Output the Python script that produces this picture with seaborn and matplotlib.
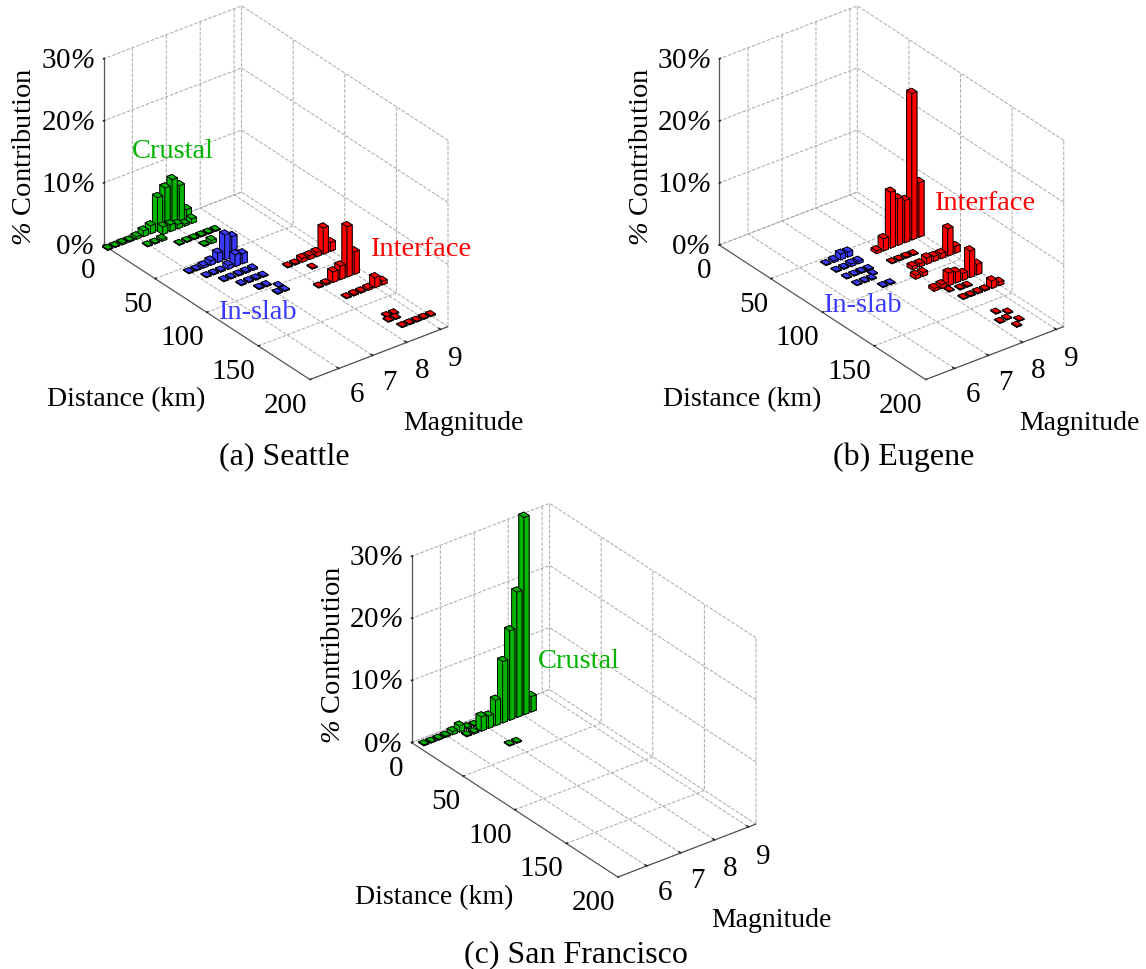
import matplotlib
matplotlib.use('Agg')
import matplotlib.pyplot as plt
import pandas as pd
import seaborn as sns
from mpl_toolkits.mplot3d import proj3d

sns.set_theme(style='white')
plt.rcParams['font.family'] = ['Liberation Serif', 'DejaVu Serif']
plt.rcParams['mathtext.fontset'] = 'custom'
# the % sign in the reference is italic, math mode is only used for that sign
plt.rcParams['mathtext.rm'] = 'Liberation Serif:italic'
plt.rcParams['mathtext.it'] = 'Liberation Serif:italic'
plt.rcParams['grid.linestyle'] = '--'

# Seattle
sea_crustal_dist = [4] * 12 + [9] * 5 + [15] * 3 + [25] * 6 + [35] * 2
sea_crustal_mag = [5.15, 5.36, 5.57, 5.78, 5.99, 6.20, 6.41, 6.62, 6.84, 7.05, 7.26, 7.47,
                   6.62, 6.84, 7.05, 7.26, 7.47,
                   5.99, 6.20, 6.41,
                   6.62, 6.84, 7.05, 7.26, 7.47, 7.68,
                   7.05, 7.26]
sea_crustal_pct = [0.12, 0.12, 0.2, 0.15, 0.4, 0.9, 1.3, 5.4, 6.5, 7.4, 6.0, 1.7,
                   1.2, 1.1, 0.7, 0.3, 0.7,
                   0.12, 0.12, 0.3,
                   0.12, 0.12, 0.12, 0.15, 0.15, 0.15,
                   0.12, 0.5]

sea_slab_dist = [55] * 7 + [65] * 6 + [75] * 5 + [85] * 4 + [95] * 2 + [100] + [106] * 2
sea_slab_mag = [5.99, 6.20, 6.41, 6.62, 6.84, 7.05, 7.26,
                6.20, 6.41, 6.62, 6.84, 7.05, 7.26,
                6.41, 6.62, 6.84, 7.05, 7.26,
                6.62, 6.84, 7.05, 7.26,
                6.84, 7.05,
                7.26,
                7.05, 7.26]
sea_slab_pct = [0.12, 0.15, 0.35, 0.7, 1.5, 4.0, 3.3,
                0.12, 0.12, 0.15, 0.6, 1.9, 1.6,
                0.12, 0.12, 0.15, 0.2, 0.25,
                0.15, 0.15, 0.15, 0.15,
                0.15, 0.15,
                0.12,
                0.12, 0.12]

sea_inter_dist = [85] * 7 + [95] + [115] * 6 + [135] * 6 + [167] * 2 + [172] * 2 + [182] * 5
sea_inter_mag = [7.99, 8.20, 8.41, 8.62, 8.83, 9.04, 9.25,
                 8.41,
                 7.99, 8.20, 8.41, 8.62, 8.83, 9.04,
                 8.20, 8.41, 8.62, 8.83, 9.04, 9.25,
                 8.41, 8.62,
                 8.31, 8.52,
                 8.41, 8.62, 8.83, 9.04, 9.25]
sea_inter_pct = [0.12, 0.15, 0.6, 0.6, 0.7, 4.2, 1.4,
                 0.12,
                 0.12, 0.2, 1.7, 2.2, 8.1, 3.6,
                 0.12, 0.2, 0.2, 0.3, 1.6, 0.6,
                 0.12, 0.12,
                 0.12, 0.12,
                 0.12, 0.12, 0.12, 0.15, 0.15]

# Eugene
eug_slab_dist = [55] * 4 + [65] * 4 + [75] * 4 + [81] + [85] * 3 + [96] * 2
eug_slab_mag = [6.62, 6.84, 7.05, 7.26,
                6.62, 6.84, 7.05, 7.26,
                6.62, 6.84, 7.05, 7.26,
                7.20,
                6.62, 6.84, 7.05,
                7.05, 7.26]
eug_slab_pct = [0.12, 0.3, 0.9, 0.8,
                0.12, 0.15, 0.4, 0.4,
                0.12, 0.12, 0.15, 0.15,
                0.12,
                0.12, 0.12, 0.12,
                0.12, 0.12]

eug_inter_dist = ([62] * 7 + [77] * 4 + [90] * 7 + [100] * 2 + [118] * 7 + [124] + [126] * 2
                  + [136] * 6 + [161.5, 165.7, 170.9, 171.6, 176.6, 181.3])
eug_inter_mag = [7.89, 8.10, 8.31, 8.52, 8.73, 8.94, 9.15,
                 7.89, 8.10, 8.31, 8.52,
                 8.10, 8.31, 8.52, 8.73, 8.94, 9.15, 9.36,
                 7.89, 8.10,
                 7.89, 8.10, 8.31, 8.52, 8.73, 8.94, 9.15,
                 8.15,
                 8.41, 8.62,
                 8.20, 8.41, 8.62, 8.83, 9.04, 9.25,
                 8.39, 8.61, 8.42, 8.20, 8.61, 8.40]
eug_inter_pct = [0.44, 1.96, 9.0, 7.5, 6.8, 23.6, 8.8,
                 0.12, 0.12, 0.15, 0.12,
                 0.5, 0.5, 1.0, 0.8, 0.8, 4.4, 1.1,
                 0.6, 0.6,
                 0.45, 0.6, 2.05, 1.75, 1.1, 4.3, 1.7,
                 0.12,
                 0.12, 0.12,
                 0.12, 0.12, 0.2, 0.2, 1.2, 0.55,
                 0.12, 0.12, 0.12, 0.12, 0.12, 0.12]

# San Francisco
sfo_crustal_dist = [5] * 8 + [12] * 10 + [36] * 2
sfo_crustal_mag = [5.36, 5.57, 5.78, 5.99, 6.20, 6.41, 6.62, 6.84,
                   6.41, 6.62, 6.84, 7.05, 7.26, 7.47, 7.68, 7.89, 8.10, 8.31,
                   6.94, 7.15]
sfo_crustal_pct = [0.12, 0.12, 0.15, 0.2, 0.5, 0.95, 0.25, 0.15,
                   0.12, 0.2, 2.3, 2.0, 4.1, 9.9, 14.4, 20.2, 31.8, 2.5,
                   0.12, 0.12]

dist_ticks = [0, 50, 100, 150, 200]
mag_ticks = [6, 7, 8, 9]
pct_ticks = [0, 10, 20, 30]
mag_min, mag_max = 5.15, 9.22

GREEN = '#00b400'
BLUE = '#3a3aff'
RED = '#ff0000'
W, H = 1146, 970


def make_frame(*series):
    parts = []
    for dist, mag, pct, color in series:
        parts.append(pd.DataFrame({'dist': dist, 'mag': mag, 'pct': pct, 'color': color}))
    return pd.concat(parts, ignore_index=True)


def draw_panel(fig, cx, cy, frame):
    side = 430
    ax = fig.add_axes([(cx - 0.5135 * side) / W, 1 - (cy + 0.5135 * side) / H, side / W, side / H],
                      projection='3d', proj_type='ortho', computed_zorder=False)
    ax.view_init(elev=30, azim=-37.5)
    ax.set_box_aspect((339, 174, 215), zoom=0.988)
    ax.set_xlim(0, 200)
    ax.set_ylim(mag_min, mag_max)
    ax.set_zlim(0, 30)
    ax.patch.set_alpha(0)
    for axis in (ax.xaxis, ax.yaxis, ax.zaxis):
        axis.set_pane_color((1, 1, 1, 0))
        axis.pane.set_edgecolor((1, 1, 1, 0))
        axis.line.set_color('#555555')
        axis.line.set_linewidth(0.9)
        axis._axinfo['grid'].update(color='#a8a8a8', linewidth=0.7, linestyle='--')
        axis._axinfo['tick'].update(inward_factor=0, outward_factor=0.1)
    ax.zaxis.set_ticks_position('lower')
    ax.set_xticks(dist_ticks)
    ax.set_yticks(mag_ticks)
    ax.set_zticks(pct_ticks)
    ax.set_xticklabels([])
    ax.set_yticklabels([])
    ax.set_zticklabels([])

    # far rows first, high magnitudes first
    for row in frame.sort_values(['dist', 'mag'], ascending=[True, False]).itertuples():
        ax.bar3d(row.dist - 2.5, row.mag - 0.075, 0, 5, 0.15, row.pct, color=row.color,
                 edgecolor='black', linewidth=0.6, shade=False)

    proj = ax.get_proj()

    def label(d, m, z, text, dx, dy, ha):
        x2, y2, _ = proj3d.proj_transform(d, m, z, proj)
        ax.annotate(text, (x2, y2), xytext=(dx, dy), textcoords='offset pixels', ha=ha, va='center',
                    fontsize=21, color='black', annotation_clip=False)

    for d in dist_ticks:
        label(d, mag_min, 0, str(d), -8 if d == 0 else -3, -25, 'right')
    for m in mag_ticks:
        label(200, m, 0, str(m), 24 - m, -20 - m, 'center')
    for p in pct_ticks:
        label(0, mag_min, p, str(p) + r'$\%$', -9, -1, 'right')
    return ax


def put(x, y, text, size=20.5, color='black', rotation=0):
    fig.text(x / W, 1 - y / H, text, ha='center', va='center', fontsize=size, color=color,
             rotation=rotation)


fig = plt.figure(figsize=(W / 100, H / 100), dpi=100, facecolor='white')

draw_panel(fig, 275.75, 193.7, make_frame((sea_crustal_dist, sea_crustal_mag, sea_crustal_pct, GREEN),
                                          (sea_slab_dist, sea_slab_mag, sea_slab_pct, BLUE),
                                          (sea_inter_dist, sea_inter_mag, sea_inter_pct, RED)))
draw_panel(fig, 891.5, 193.7, make_frame((eug_slab_dist, eug_slab_mag, eug_slab_pct, BLUE),
                                         (eug_inter_dist, eug_inter_mag, eug_inter_pct, RED)))
draw_panel(fig, 583.75, 691.2, make_frame((sfo_crustal_dist, sfo_crustal_mag, sfo_crustal_pct, GREEN)))

for ox, oy in [(0, 0), (616, 0), (308, 497.5)]:
    put(126 + ox, 400 + oy, 'Distance (km)', size=20)
    put(463 + ox, 423 + oy, 'Magnitude', size=20)
    put(25 + ox, 157 + oy, r'$\%$ Contribution', size=20.5, rotation=90)

put(284, 457, '(a) Seattle', size=23)
put(904, 457, '(b) Eugene', size=23)
put(576, 955, '(c) San Francisco', size=23)
put(173, 151, 'Crustal', color=GREEN)
put(257, 313, 'In-slab', color=BLUE)
put(421, 249, 'Interface', color=RED)
put(985, 203, 'Interface', color=RED)
put(862, 306, 'In-slab', color=BLUE)
put(579, 661, 'Crustal', color=GREEN)

fig.savefig('out.png', dpi=100)
